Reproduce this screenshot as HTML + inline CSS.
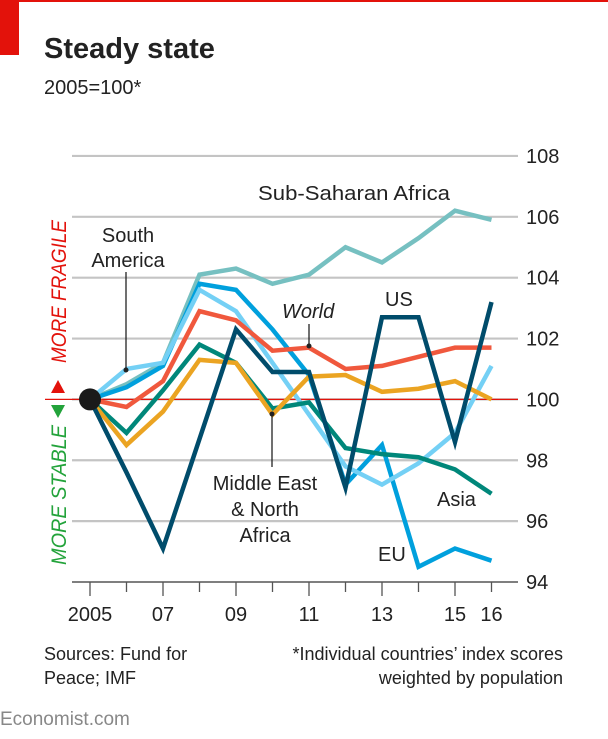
<!DOCTYPE html>
<html><head><meta charset="utf-8"><style>
body{margin:0;background:#fff;}
svg{display:block;font-family:"Liberation Sans",sans-serif;}
</style></head><body>
<svg width="608" height="739" viewBox="0 0 608 739">
<rect x="0" y="0" width="608" height="2" fill="#e3120b"/>
<rect x="0" y="0" width="19" height="55" fill="#e3120b"/>
<text x="44" y="58" font-size="29" font-weight="bold" fill="#222">Steady state</text>
<text x="44" y="94" font-size="20" fill="#222">2005=100*</text>
<g id="grid"></g>
<g id="lines"></g>
<g id="labels" font-size="20" fill="#222">
<text x="258" y="200" textLength="192" lengthAdjust="spacingAndGlyphs">Sub-Saharan Africa</text>
<text x="128" y="242" text-anchor="middle">South</text>
<text x="128" y="267" text-anchor="middle">America</text>
<line x1="126" y1="272" x2="126" y2="370" stroke="#222" stroke-width="1.3"/>
<circle cx="126" cy="370" r="2.5" fill="#222"/>
<text x="282" y="318" font-style="italic">World</text>
<line x1="309" y1="324" x2="309" y2="346" stroke="#222" stroke-width="1.3"/>
<circle cx="309" cy="346" r="2.5" fill="#222"/>
<text x="385" y="306">US</text>
<text x="265" y="490" text-anchor="middle">Middle East</text>
<text x="265" y="516" text-anchor="middle">&amp; North</text>
<text x="265" y="542" text-anchor="middle">Africa</text>
<line x1="272" y1="414" x2="272" y2="467" stroke="#222" stroke-width="1.3"/>
<circle cx="272" cy="414" r="2.5" fill="#222"/>
<text x="437" y="506">Asia</text>
<text x="378" y="561">EU</text>
</g>
<text transform="translate(66,363) rotate(-90)" font-size="21" font-style="italic" fill="#e3120b" textLength="143" lengthAdjust="spacingAndGlyphs">MORE FRAGILE</text>
<polygon points="51,393 65,393 58,380" fill="#e3120b"/>
<polygon points="51,405 65,405 58,418" fill="#23a33b"/>
<text transform="translate(66,565) rotate(-90)" font-size="21" font-style="italic" fill="#23a33b" textLength="140" lengthAdjust="spacingAndGlyphs">MORE STABLE</text>
<text x="44" y="660" font-size="18" fill="#222">Sources: Fund for</text>
<text x="44" y="684" font-size="18" fill="#222">Peace; IMF</text>
<text x="563" y="660" font-size="18" fill="#222" text-anchor="end">*Individual countries’ index scores</text>
<text x="563" y="684" font-size="18" fill="#222" text-anchor="end">weighted by population</text>
<text x="0" y="725" font-size="19" fill="#888">Economist.com</text>
</svg>
<script>
const years=[2005,2006,2007,2008,2009,2010,2011,2012,2013,2014,2015,2016];
const xLabels=["2005","","07","","09","","11","","13","","15","16"];
const yTicks=[108,106,104,102,100,98,96,94];
const subSaharan=[100,100.5,101.2,104.1,104.3,103.8,104.1,105.0,104.5,105.3,106.2,105.9];
const southAmerica=[100,101.0,101.2,103.6,102.9,101.2,99.5,97.8,97.2,97.9,98.9,101.1];
const eu=[100,100.4,101.1,103.8,103.6,102.3,100.8,97.2,98.5,94.5,95.1,94.7];
const world=[100,99.75,100.6,102.9,102.6,101.6,101.7,101.0,101.1,101.4,101.7,101.7];
const asia=[100,98.9,100.3,101.8,101.2,99.7,99.9,98.4,98.2,98.1,97.7,96.9];
const mena=[100,98.5,99.6,101.3,101.2,99.5,100.75,100.8,100.25,100.35,100.6,100.0];
const us=[100,97.6,95.1,98.7,102.3,100.9,100.9,97.1,102.7,102.7,98.6,103.2];
const NS="http://www.w3.org/2000/svg";
const x=y=>90+(y-2005)*36.5;
const yS=v=>399.4-(v-100)*30.43;
function mk(t,a,p){const e=document.createElementNS(NS,t);for(const k in a)e.setAttribute(k,a[k]);p.appendChild(e);return e;}
const grid=document.getElementById('grid');
yTicks.forEach(t=>{
 const l=mk('line',{x1:72,x2:518,y1:yS(t),y2:yS(t),stroke:t===94?'#555':'#c4c4c4','stroke-width':t===94?1.5:2.2},grid);
 
 
 const tx=mk('text',{x:526,y:yS(t)+7,'font-size':20,fill:'#222'},grid);
 tx.textContent=t;
 
 
});
years.forEach((yr,i)=>{
 const tk=mk('line',{x1:x(yr),x2:x(yr),y1:582,y2:i%2===0?596:592,stroke:'#555','stroke-width':1.3},grid);
 
 
 if(xLabels[i]){const t=mk('text',{x:x(yr),y:621,'font-size':20,fill:'#222','text-anchor':'middle'},grid);
 t.textContent=xLabels[i];
 
 }
});
const base=mk('line',{x1:45,x2:518,y1:yS(100),y2:yS(100),stroke:'#e3120b','stroke-width':1.3},grid);


const series=[["sub-saharan-africa",subSaharan,"#76c0c1"],["eu",eu,"#00a0dd"],["south-america",southAmerica,"#74d0f5"],["world",world,"#f0583d"],["asia",asia,"#00877a"],["mena",mena,"#eba422"],["us",us,"#004c6b"]];
const lg=document.getElementById('lines');
series.forEach(([n,d,c])=>{
 const p=mk('polyline',{points:d.map((v,i)=>x(years[i])+','+yS(v)).join(' '),fill:'none',stroke:c,'stroke-width':4.5,'stroke-linejoin':'miter'},lg);
 
 
});
const dot=mk('circle',{cx:x(2005),cy:yS(100),r:11,fill:'#1a1a1a'},lg);


</script>
</body></html>
